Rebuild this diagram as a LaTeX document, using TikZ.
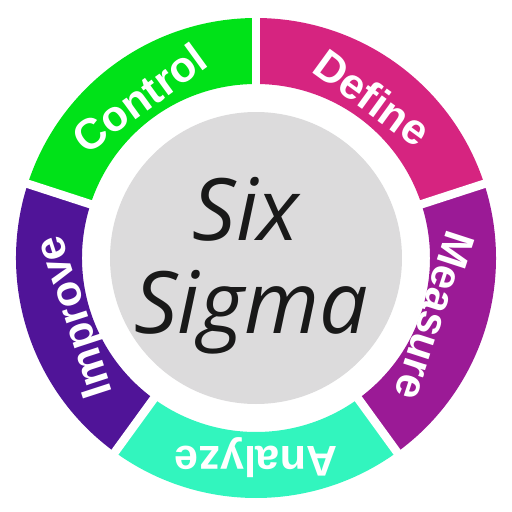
\documentclass[tikz,border=0pt]{standalone}
\usepackage{fontspec}
\setmainfont{Liberation Sans}
\newfontfamily\hubfont{Open Sans}
\definecolor{defpink}{RGB}{214,36,128}
\definecolor{meapurple}{RGB}{155,26,150}
\definecolor{anaaqua}{RGB}{50,245,190}
\definecolor{imprviolet}{RGB}{80,20,152}
\definecolor{ctrlgreen}{RGB}{0,226,24}
\definecolor{hubgrey}{RGB}{220,219,220}

\begin{document}
\begin{tikzpicture}[line cap=butt,
  phase/.style={text=white,font=\bfseries\fontsize{24.5}{24.5}\selectfont},
  hub/.style={text=black!90,font=\hubfont\itshape\fontsize{49}{49}\selectfont,anchor=base}]
\useasboundingbox (-5.12,-5.08) rectangle (5.12,5.16);
% ring of the five phases
\foreach \a/\col/\name/\r in {18/defpink/Define/3.96,90/ctrlgreen/Control/3.96,
    162/imprviolet/Improve/3.76,234/anaaqua/Analyze/4.0,306/meapurple/Measure/3.76}{
  \fill[\col] (\a:4.8) arc[start angle=\a,end angle=\a+72,radius=4.8]
    -- ({\a+72}:3.48) arc[start angle=\a+72,end angle=\a,radius=3.48] -- cycle;
  \node[phase,rotate=\a+36-90] (\name) at ({\a+36}:\r) {\name};
}
% white gaps between the phases
\foreach \a in {18,90,162,234,306}
  \draw[white,line width=0.17cm] (\a:3.3) -- (\a:5);
\fill[hubgrey] (0,0) circle (2.92);
\node[hub] (six) at (-0.2,0.36) {Six};
\node[hub] (sigma) at (-0.1,-1.5) {Sigma};
\end{tikzpicture}
\end{document}
